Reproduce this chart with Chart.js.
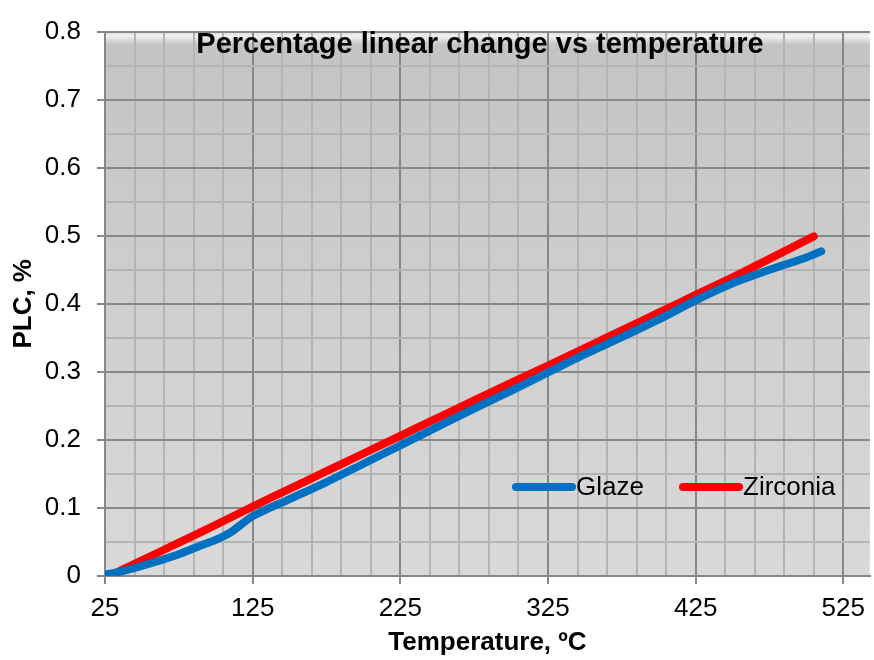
<!DOCTYPE html>
<html>
<head>
<meta charset="utf-8">
<script src="https://cdn.jsdelivr.net/npm/chart.js@4/dist/chart.umd.min.js"></script>
<style>
  html, body { margin: 0; padding: 0; background: #fff; }
  #wrap { width: 874px; height: 660px; }
</style>
</head>
<body>
<div id="wrap"><canvas id="chart"></canvas></div>
<script>
"use strict";

// data
const glazeTemp = [25, 35, 55, 75, 89, 100, 110, 125, 150, 175, 200, 225, 250, 275, 300, 325, 350, 375, 400, 425, 450, 475, 500, 510];
const glazePlc  = [0.002, 0.006, 0.018, 0.032, 0.044, 0.053, 0.064, 0.088, 0.113, 0.138, 0.165, 0.192, 0.219, 0.246, 0.272, 0.299, 0.326, 0.351, 0.377, 0.405, 0.430, 0.450, 0.468, 0.477];

const zircTemp = [28, 50, 75, 100, 125, 150, 175, 200, 225, 250, 275, 300, 325, 350, 375, 400, 425, 450, 475, 505];
const zircPlc  = [0.000, 0.023, 0.049, 0.075, 0.102, 0.128, 0.154, 0.180, 0.206, 0.232, 0.258, 0.284, 0.309, 0.335, 0.361, 0.387, 0.413, 0.439, 0.466, 0.499];

const xMajorTicks = [25, 125, 225, 325, 425, 525];
const yMajorTicks = [0, 0.1, 0.2, 0.3, 0.4, 0.5, 0.6, 0.7, 0.8];

const FONT = "'Liberation Sans', Arial, sans-serif";

// minor lines every 20 degrees and every 0.05 %
const xTicks = [];
for (let v = 25; v <= 525; v += 20) xTicks.push(v);
const yTicks = [];
for (let i = 0; i <= 16; i++) yTicks.push(Math.round(i * 5) / 100);

const isMajorX = (v) => xMajorTicks.includes(v);
const isMajorY = (v) => yMajorTicks.some((m) => Math.abs(m - v) < 1e-6);

const toPoints = (xs, ys) => xs.map((x, i) => ({ x, y: ys[i] }));

const plotBackground = {
    id: 'plotBackground',
    beforeDraw(chart) {
        const { ctx, chartArea: a } = chart;
        const g = ctx.createLinearGradient(0, a.top, 0, a.bottom);
        g.addColorStop(0, '#d8d8d8');
        g.addColorStop(0.008, '#f2f2f2');
        g.addColorStop(0.024, '#c4c4c4');
        g.addColorStop(1, '#d9d9d9');
        ctx.save();
        ctx.fillStyle = g;
        ctx.fillRect(a.left, a.top, a.right - a.left, a.bottom - a.top);
        ctx.restore();
    }
};

const insideText = {
    id: 'insideText',
    afterDatasetsDraw(chart) {
        const { ctx } = chart;
        ctx.save();
        // title
        ctx.fillStyle = '#000';
        ctx.font = `bold 29px ${FONT}`;
        ctx.textAlign = 'center';
        ctx.textBaseline = 'middle';
        ctx.fillText('Percentage linear change vs temperature', 480, 45);
        // legend
        const spots = [516, 683];
        ctx.font = `26px ${FONT}`;
        ctx.textAlign = 'left';
        chart.data.datasets.forEach((ds, i) => {
            const x = spots[i];
            ctx.strokeStyle = ds.borderColor;
            ctx.lineWidth = 8;
            ctx.lineCap = 'round';
            ctx.beginPath();
            ctx.moveTo(x, 487);
            ctx.lineTo(x + 56, 487);
            ctx.stroke();
            ctx.fillText(ds.label, x + 60, 488);
        });
        ctx.restore();
    }
};

new Chart(document.getElementById('chart'), {
    type: 'scatter',
    data: {
        datasets: [
            { label: 'Glaze', data: toPoints(glazeTemp, glazePlc), borderColor: '#0070c0' },
            { label: 'Zirconia', data: toPoints(zircTemp, zircPlc), borderColor: '#ff0000' }
        ].map((d) => ({
            ...d, showLine: true, borderWidth: 8, pointRadius: 0,
            borderCapStyle: 'round', borderJoinStyle: 'round', tension: 0.2
        }))
    },
    options: {
        responsive: true,
        maintainAspectRatio: false,
        animation: false,
        layout: { padding: { top: 20, right: 0, left: 0, bottom: 0 } },
        plugins: { legend: { display: false }, tooltip: { enabled: false } },
        scales: {
            x: {
                type: 'linear', min: 25, max: 543,
                afterBuildTicks: (s) => { s.ticks = xTicks.map((value) => ({ value })); },
                afterFit: (s) => { s.height = 84; },
                ticks: {
                    autoSkip: false, maxRotation: 0, padding: 9, color: '#000',
                    font: { family: FONT, size: 26 },
                    callback: (v) => isMajorX(v) ? String(v) : ''
                },
                grid: {
                    lineWidth: 2, tickLength: 8,
                    color: (c) => isMajorX(c.tick?.value) ? '#888888' : '#b4b4b4',
                    tickColor: (c) => isMajorX(c.tick?.value) ? '#888888' : 'rgba(0,0,0,0)'
                },
                border: { color: '#888888', width: 2 },
                title: {
                    display: true, text: 'Temperature, ºC', color: '#000',
                    font: { family: FONT, size: 26, weight: 'bold' },
                    padding: { top: 4, bottom: 2 }
                }
            },
            y: {
                type: 'linear', min: 0, max: 0.8,
                afterBuildTicks: (s) => { s.ticks = yTicks.map((value) => ({ value })); },
                afterFit: (s) => { s.width = 105; },
                ticks: {
                    autoSkip: false, padding: 16, color: '#000',
                    font: { family: FONT, size: 26 },
                    callback: (v) => isMajorY(v) ? String(Math.round(v * 10) / 10) : ''
                },
                grid: {
                    lineWidth: 2, tickLength: 8,
                    color: (c) => isMajorY(c.tick?.value) ? '#888888' : '#b4b4b4',
                    tickColor: (c) => isMajorY(c.tick?.value) ? '#888888' : 'rgba(0,0,0,0)'
                },
                border: { color: '#888888', width: 2 },
                title: {
                    display: true, text: 'PLC, %', color: '#000',
                    font: { family: FONT, size: 26, weight: 'bold' },
                    padding: { top: 8, bottom: 0 }
                }
            }
        }
    },
    plugins: [plotBackground, insideText]
});
</script>
</body>
</html>
